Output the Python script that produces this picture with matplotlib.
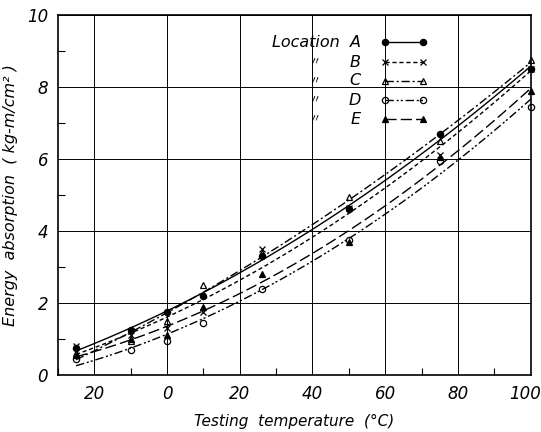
import numpy as np
import matplotlib.pyplot as plt
import matplotlib.transforms as mtransforms
from matplotlib.ticker import MultipleLocator, FixedLocator

# DATA
temps = [-25, -10, 0, 10, 26, 50, 75, 100]
locA = [0.75, 1.25, 1.75, 2.2, 3.3, 4.6, 6.7, 8.5]
locB = [0.8, 1.1, 1.3, 1.75, 3.5, 4.65, 6.1, 8.5]
locC = [0.6, 0.95, 1.5, 2.5, 3.4, 4.95, 6.5, 8.75]
locD = [0.45, 0.7, 0.95, 1.45, 2.4, 3.75, 5.95, 7.45]
locE = [0.55, 1.0, 1.1, 1.9, 2.8, 3.7, 6.05, 7.9]
xTickValues = [-20, 0, 20, 40, 60, 80, 100]
xTickLabels = ['20', '0', '20', '40', '60', '80', '100']
yTickValues = [0, 2, 4, 6, 8, 10]

series = [
	('A', locA, 'o', 'k', '-'),
	('B', locB, 'x', 'none', (0, (3, 2))),
	('C', locC, '^', 'none', (0, (6, 2, 1.5, 2))),
	('D', locD, 'o', 'none', (0, (6, 2, 1.5, 1.5, 1.5, 2))),
	('E', locE, '^', 'k', (0, (8, 3))),
]

plt.rcParams['font.family'] = 'DejaVu Sans'
plt.rcParams['font.style'] = 'italic'

fig = plt.figure(figsize = (5.41, 4.32), dpi = 100)
ax = fig.add_axes([0.107, 0.132, 0.874, 0.833])
ax.set_xlim(-30, 100)
ax.set_ylim(0, 10)

# fitted curves
xs = np.linspace(-25, 100, 200)
for name, vals, mk, fc, ls in series :
	coef = np.polyfit(temps, vals, 2)
	ax.plot(xs, np.polyval(coef, xs), color = 'k', linestyle = ls, linewidth = 1.0)
	ax.plot(temps, vals, linestyle = 'none', marker = mk, markersize = 4.5,
		markerfacecolor = fc, markeredgecolor = 'k', markeredgewidth = 0.9, clip_on = False)

# grid and ticks
ax.xaxis.set_major_locator(FixedLocator(xTickValues))
ax.set_xticklabels(xTickLabels)
ax.yaxis.set_major_locator(FixedLocator(yTickValues))
ax.xaxis.set_minor_locator(MultipleLocator(10))
ax.yaxis.set_minor_locator(MultipleLocator(1))
ax.grid(True, which = 'major', color = 'k', linewidth = 0.7)
ax.tick_params(which = 'major', length = 0, labelsize = 12, pad = 7)
ax.tick_params(which = 'minor', direction = 'in', length = 5, width = 0.8)
for spine in ax.spines.values() :
	spine.set_linewidth(1.2)

# keep "100" inside the figure
lastLabel = ax.get_xticklabels()[-1]
lastLabel.set_transform(lastLabel.get_transform() +
	mtransforms.ScaledTranslation(-6 / 100, 0, fig.dpi_scale_trans))

ax.set_xlabel('Testing  temperature  (°C)', fontsize = 11, labelpad = 8)
ax.set_ylabel('Energy  absorption  ( kg-m/cm² )', fontsize = 11.5, labelpad = 4)
ax.yaxis.set_label_coords(-0.085, 0.5)

# hand-made legend
rowsY = [0.925, 0.869, 0.817, 0.764, 0.711]
for i, (name, vals, mk, fc, ls) in enumerate(series) :
	y = rowsY[i]
	if i == 0 :
		ax.text(0.64, y, 'Location  A', transform = ax.transAxes, fontsize = 11.5,
			ha = 'right', va = 'center')
	else :
		ax.text(0.543, y, '〃', transform = ax.transAxes, fontsize = 8,
			ha = 'center', va = 'center', family = ['Noto Sans CJK JP', 'DejaVu Sans'])
		ax.text(0.64, y, name, transform = ax.transAxes, fontsize = 11.5,
			ha = 'right', va = 'center')
	ax.plot([0.691, 0.772], [y, y], transform = ax.transAxes, color = 'k',
		linestyle = ls, linewidth = 1.0, marker = mk, markersize = 4.5,
		markerfacecolor = fc, markeredgecolor = 'k', markeredgewidth = 0.9)

fig.savefig('out.png', dpi = 100)
